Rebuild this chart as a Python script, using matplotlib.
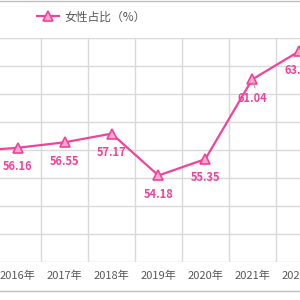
import matplotlib
matplotlib.use("Agg")
from matplotlib import pyplot as plt
from matplotlib.lines import Line2D

plt.rcParams["font.family"] = ["Noto Sans CJK SC", "DejaVu Sans"]

years = ["2015年", "2016年", "2017年", "2018年", "2019年", "2020年", "2021年", "2022年"]
female_share = [55.9, 56.16, 56.55, 57.17, 54.18, 55.35, 61.04, 63.05]

pink = "#F0439A"
grid_c = "#D9D9D9"
text_c = "#595959"

fig = plt.figure(figsize=(3, 3), dpi=100)
ax = fig.add_axes([-52.5 / 300, 38 / 300, 375 / 300, 224 / 300])

x = list(range(len(years)))
ax.plot(x, female_share, color=pink, lw=1.6, marker="^", ms=7,
        mfc="#F7A8CC", mec=pink, mew=1.2, label="女性占比（%）", zorder=3)

# first point lies outside the visible area, so only label the rest
for i, v in enumerate(female_share):
    if i == 0:
        continue
    ax.annotate(f"{v:.2f}", (i, v), xytext=(0, -13.5), textcoords="offset points",
                ha="center", va="center", color=pink, fontsize=8,
                fontweight="bold")

# leader line for 2021 label
ax.annotate("", xy=(6, female_share[6]), xytext=(6.08, female_share[6] - 0.8),
            arrowprops=dict(arrowstyle="-", color="#A6A6A6", lw=0.8))

ax.set_xlim(-0.5, len(years) - 0.5)
ax.set_ylim(48, 64)
ax.set_yticks(range(48, 65, 2))
ax.set_xticks(x)
ax.set_xticklabels(years, color=text_c, fontsize=8)
ax.set_xticks([i + 0.5 for i in x[:-1]], minor=True)
ax.tick_params(axis="x", which="both", length=0, pad=6)
ax.tick_params(axis="y", length=0, labelleft=False)
ax.grid(axis="y", color=grid_c, lw=1)
ax.grid(axis="x", which="minor", color=grid_c, lw=1)
for s in ax.spines.values():
    s.set_visible(False)
ax.set_axisbelow(True)

fig.legend(loc="center left", bbox_to_anchor=(37 / 300, 1 - 17 / 300),
           frameon=False, fontsize=8.5, labelcolor=text_c, handlelength=1.9,
           handletextpad=0.4, borderaxespad=0, borderpad=0)

fig.add_artist(Line2D([0, 1], [1 - 1 / 300, 1 - 1 / 300], color="#BFBFBF", lw=1))
fig.add_artist(Line2D([0, 1], [9 / 300, 9 / 300], color="#BFBFBF", lw=1))

fig.savefig("out.png", dpi=100)
